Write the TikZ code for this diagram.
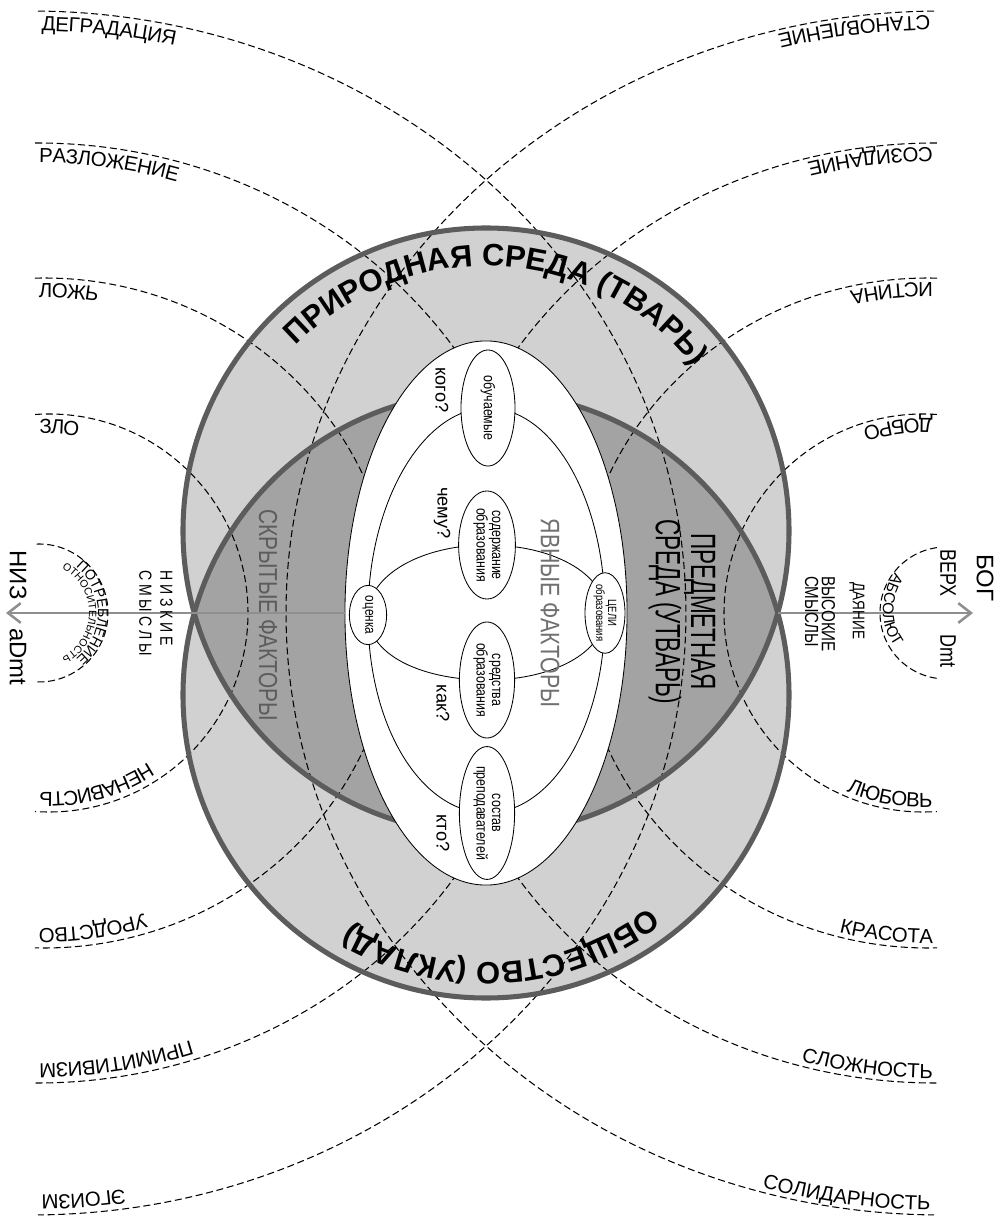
\documentclass[tikz,border=0pt]{standalone}
\usepackage{fontspec}
\setmainfont{Liberation Sans}
\newfontfamily\narrowfont[FakeStretch=0.8]{Liberation Sans}
\newfontfamily\tightfont[FakeStretch=0.64]{Liberation Sans}
\usetikzlibrary{arrows.meta,positioning,calc,shapes.geometric,decorations.text}

\definecolor{ringgray}{gray}{0.82}
\definecolor{lensgray}{gray}{0.64}
\definecolor{rimgray}{gray}{0.36}
\definecolor{axisgray}{gray}{0.56}
\definecolor{hidgray}{gray}{0.36}
\definecolor{opengray}{gray}{0.44}

\newcommand\arclabel{\fontsize{14.5}{14.5}\selectfont}
\newcommand\ringlabel{\fontsize{22}{22}\selectfont\bfseries}

\pgfdeclarelayer{back}
\pgfdeclarelayer{mid}
\pgfsetlayers{back,mid,main}

\begin{document}
\begin{tikzpicture}[x=0.025cm, y=0.025cm,
  rim/.style={draw=rimgray, line width=3.6pt},
  field/.style={dash pattern=on 5pt off 2.6pt, line width=0.75pt},
  lowarc/.style 2 args={draw, field,
    postaction={decorate, decoration={text along path, text={|\arclabel|#1}, text align={left, left indent=3pt}, raise=-14pt}},
    postaction={decorate, decoration={text along path, text={|\arclabel|#2}, text align={right, right indent=3pt}, raise=-14pt}}},
  higharc/.style 2 args={draw, field,
    postaction={decorate, decoration={text along path, text={|\arclabel|#1}, text align={left, left indent=3pt}, raise=3.3pt}},
    postaction={decorate, decoration={text along path, text={|\arclabel|#2}, text align={right, right indent=3pt}, raise=3.3pt}}},
  factor/.style={draw, ellipse, fill=white, inner sep=0pt, line width=0.6pt, rotate=-90, align=center, font=\narrowfont\fontsize{11}{11}\selectfont},
  ask/.style={rotate=-90, font=\fontsize{13}{13}\selectfont},
  link/.style={line width=0.6pt},
  axisline/.style={draw=axisgray, line width=1.8pt, -{Straight Barb[length=9pt,width=14pt]}},
  vtext/.style={rotate=-90, align=center, inner sep=1pt}
]
\useasboundingbox (-486,-603) rectangle (514,613);

\begin{pgfonlayer}{back}
\fill[ringgray] (0,82) circle[radius=303] (0,-82) circle[radius=303];
\begin{scope}
  \clip (0,82) circle[radius=303];
  \fill[lensgray] (0,-82) circle[radius=303];
\end{scope}

\path[shift={(-437,0)}, lowarc={ЗЛО}{НЕНАВИСТЬ}] (94:199) arc[start angle=94, end angle=-94, radius=199];
\path[shift={(-442,0)}, lowarc={ЛОЖЬ}{УРОДСТВО}] (91.5:350 and 335) arc[start angle=91.5, end angle=-91.5, x radius=350, y radius=335];
\path[shift={(-449,0)}, lowarc={РАЗЛОЖЕНИЕ}{ПРИМИТИВИЗМ}] (90.2:505 and 470) arc[start angle=90.2, end angle=-90.2, x radius=505, y radius=470];
\path[shift={(-455,0)}, lowarc={ДЕГРАДАЦИЯ}{ЭГОИЗМ}] (89.4:655 and 602) arc[start angle=89.4, end angle=-89.4, x radius=655, y radius=602];

\path[shift={(437,0)}, higharc={ДОБРО}{ЛЮБОВЬ}] (86:199) arc[start angle=86, end angle=274, radius=199];
\path[shift={(442,0)}, higharc={ИСТИНА}{КРАСОТА}] (88.5:350 and 335) arc[start angle=88.5, end angle=271.5, x radius=350, y radius=335];
\path[shift={(449,0)}, higharc={СОЗИДАНИЕ}{СЛОЖНОСТЬ}] (89.8:505 and 470) arc[start angle=89.8, end angle=270.2, x radius=505, y radius=470];
\path[shift={(455,0)}, higharc={СТАНОВЛЕНИЕ}{СОЛИДАРНОСТЬ}] (90.6:655 and 602) arc[start angle=90.6, end angle=269.4, x radius=655, y radius=602];

\draw[rim] (0,82) circle[radius=303];
\draw[rim] (0,-82) circle[radius=303];

\node[draw, ellipse, fill=white, line width=0.6pt, inner sep=0pt, minimum width=7.05cm, minimum height=13.6cm] (core) at (0,0) {};

\coordinate (lensR) at (292,0);
\coordinate (niz) at (-480,0);
\coordinate (verh) at (487,0);
\draw[axisline] (core.west) -- (niz);
\draw[axisline] (lensR) -- (verh);

\path[shift={(0,82)}, decorate, decoration={text along path, text={|\ringlabel|ПРИРОДНАЯ СРЕДА (ТВАРЬ)}, text align=center}] (142:265) arc[start angle=142, end angle=32, radius=265];
\path[shift={(0,-82)}, decorate, decoration={text along path, text={|\ringlabel|ОБЩЕСТВО (УКЛАД)}, text align=center}] (-35:268) arc[start angle=-35, end angle=-138, radius=268];

\draw[field] ([shift={(-447,0)}]92:69) arc[start angle=92, end angle=-92, radius=69];
\path[shift={(-447,0)}, decorate, decoration={text along path, text={|\fontsize{10}{10}\selectfont|ПОТРЕБЛЕНИЕ}, text align=center}] (90:59) arc[start angle=90, end angle=-90, radius=59];
\path[shift={(-447,0)}, decorate, decoration={text along path, text={|\fontsize{7.5}{7.5}\selectfont|ОТНОСИТЕЛЬНОСТЬ}, text align=center}] (90:50) arc[start angle=90, end angle=-90, radius=50];

\draw[field] ([shift={(460,0)}]98:66) arc[start angle=98, end angle=262, radius=66];
\path[shift={(460,3)}, decorate, decoration={text along path, text={|\fontsize{11}{11}\selectfont|АБСОЛЮТ}, text align=center}] (95:63) arc[start angle=95, end angle=265, radius=63];
\end{pgfonlayer}

\node[vtext, font=\narrowfont\fontsize{18.5}{18.5}\selectfont, text=hidgray] (hidden) at (-218,-2) {СКРЫТЫЕ ФАКТОРЫ};
\node[vtext, font=\tightfont\fontsize{25}{25}\selectfont] (things) at (196,1) {ПРЕДМЕТНАЯ\\СРЕДА (УТВАРЬ)};
\node[vtext, font=\narrowfont\fontsize{19}{19}\selectfont, text=opengray] (open) at (64,0) {ЯВНЫЕ ФАКТОРЫ};

\node[factor, minimum width=2.9cm, minimum height=1.35cm] (learners) at (2,205) {обучаемые};
\node[factor, minimum width=2.7cm, minimum height=1.42cm] (content) at (1,68) {содержание\\образования};
\node[factor, minimum width=2.9cm, minimum height=1.38cm] (means) at (1,-67) {средства\\образования};
\node[factor, minimum width=2.9cm, minimum height=1.38cm] (staff) at (1,-200) {состав\\преподавателей};
\node[factor, minimum width=1.48cm, minimum height=0.93cm, font=\narrowfont\fontsize{10.5}{10.5}\selectfont] (assess) at (-118,-2) {оценка};
\node[factor, minimum width=1.88cm, minimum height=1cm, font=\narrowfont\fontsize{8.5}{8.5}\selectfont] (goals) at (119,0) {ЦЕЛИ\\образования};

\node[ask] (whom) at (-44,223) {кого?};
\node[ask] (what) at (-44,100) {чему?};
\node[ask] (how) at (-43,-90) {как?};
\node[ask] (who) at (-43,-220) {кто?};

\begin{pgfonlayer}{mid}
\draw[link] (assess.center) .. controls +(0,113) and +(-65,0) .. (learners.center)
  .. controls +(65,0) and +(0,113) .. (goals.center)
  .. controls +(0,-113) and +(65,0) .. (staff.center)
  .. controls +(-65,0) and +(0,-113) .. (assess.center);
\draw[link] (assess.center) .. controls +(0,40) and +(-65,0) .. (content.center)
  .. controls +(65,0) and +(0,40) .. (goals.center)
  .. controls +(0,-40) and +(65,0) .. (means.center)
  .. controls +(-65,0) and +(0,-40) .. (assess.center);
\end{pgfonlayer}

\node[vtext, font=\fontsize{17}{17}\selectfont] (low) at (-468,38) {НИЗ};
\node[vtext, font=\fontsize{17}{17}\selectfont] (lowD) at (-468,-44) {aDmt};
\node[vtext, font=\narrowfont\fontsize{12.5}{15}\selectfont, align=left] (lowsense) at (-330,0) {Н И З К И Е\\С М Ы С Л Ы};
\node[vtext, font=\narrowfont\fontsize{13.5}{12}\selectfont, align=left] (highsense) at (334,-1) {ВЫСОКИЕ\\СМЫСЛЫ};
\node[vtext, font=\narrowfont\fontsize{12}{12}\selectfont] (gift) at (371,2) {ДАЯНИЕ};
\node[vtext, font=\narrowfont\fontsize{16}{16}\selectfont] (up) at (462,40) {ВЕРХ};
\node[vtext, font=\narrowfont\fontsize{16}{16}\selectfont] (upD) at (462,-38) {Dmt};
\node[vtext, font=\fontsize{17}{17}\selectfont] (god) at (499,35) {БОГ};

\end{tikzpicture}
\end{document}
